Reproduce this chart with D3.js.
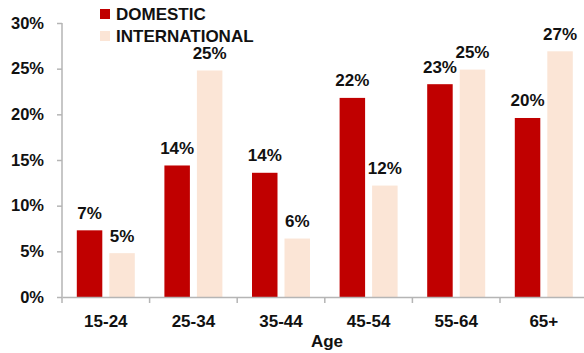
<!DOCTYPE html>
<html><head><meta charset="utf-8">
<script src="https://cdn.jsdelivr.net/npm/d3@7"></script>
<style>body{margin:0;background:#fff}svg{display:block}text{font-family:"Liberation Sans",Arial,sans-serif;font-weight:bold;fill:#111}</style>
</head><body><svg id="c" width="584" height="353"></svg>
<script>
const categories = ["15-24","25-34","35-44","45-54","55-64","65+"];
const domestic = [7.3, 14.4, 13.6, 21.8, 23.3, 19.6];
const international = [4.8, 24.8, 6.4, 12.2, 24.9, 26.9];
const domesticLabels = ["7%","14%","14%","22%","23%","20%"];
const internationalLabels = ["5%","25%","6%","12%","25%","27%"];
const yTicks = [0,5,10,15,20,25,30];
const seriesNames = ["DOMESTIC","INTERNATIONAL"];
const colors = ["#C00000","#FBE5D6"];

const svg = d3.select("#c");
const x0 = d3.scaleBand().domain(categories).range([62, 587.6]).paddingInner(0).paddingOuter(0);
const y = d3.scaleLinear().domain([0,30]).range([297, 23]);
const bw = 25.5, gap = 7;
const groupW = bw*2+gap;

// y axis
const ya = svg.append("g").attr("transform","translate(62,0)")
  .call(d3.axisLeft(y).tickValues(yTicks).tickFormat(d=>d+"%").tickSize(5).tickPadding(13));
ya.select(".domain").attr("stroke","#b5b5b5").attr("stroke-width",1.5).attr("d","M0,"+y(30)+"V"+y(0));
ya.selectAll(".tick line").attr("stroke","#b5b5b5").attr("stroke-width",1.5);
ya.selectAll(".tick text").style("font-size","16.5px").attr("fill","#111");

// bars
const series = [domestic, international];
const labels = [domesticLabels, internationalLabels];
series.forEach((vals, s) => {
  const g = svg.append("g");
  g.selectAll("rect").data(vals).join("rect")
    .attr("x",(d,i)=>x0(categories[i]) + (x0.bandwidth()-groupW)/2 + s*(bw+gap))
    .attr("width",bw)
    .attr("y",d=>y(d))
    .attr("height",d=>y(0)-y(d))
    .attr("fill",colors[s]);
  g.selectAll("text").data(vals).join("text")
    .attr("x",(d,i)=>x0(categories[i]) + (x0.bandwidth()-groupW)/2 + s*(bw+gap) + bw/2)
    .attr("y",d=>y(d)-11.5)
    .attr("text-anchor","middle")
    .style("font-size","17px")
    .text((d,i)=>labels[s][i]);
});

// x axis
const xa = svg.append("g").attr("transform","translate(0,297)")
  .call(d3.axisBottom(x0).tickSize(0).tickPadding(18));
xa.select(".domain").attr("stroke","#b5b5b5").attr("stroke-width",1.5);
xa.selectAll(".tick text").style("font-size","17px").attr("fill","#111");
const bounds = categories.map(c=>x0(c));
svg.append("g").selectAll("line").data(bounds).join("line")
  .attr("x1",d=>d).attr("x2",d=>d).attr("y1",297).attr("y2",303)
  .attr("stroke","#b5b5b5").attr("stroke-width",1.5);

svg.append("text").attr("x",327).attr("y",347).attr("text-anchor","middle")
  .style("font-size","17px").text("Age");

// legend
const lg = svg.append("g");
seriesNames.forEach((n,i)=>{
  lg.append("rect").attr("x",100).attr("y",9+i*22).attr("width",10).attr("height",10).attr("fill",colors[i]);
  lg.append("text").attr("x",116).attr("y",19.5+i*22).style("font-size","17px").text(n);
});
</script></body></html>
